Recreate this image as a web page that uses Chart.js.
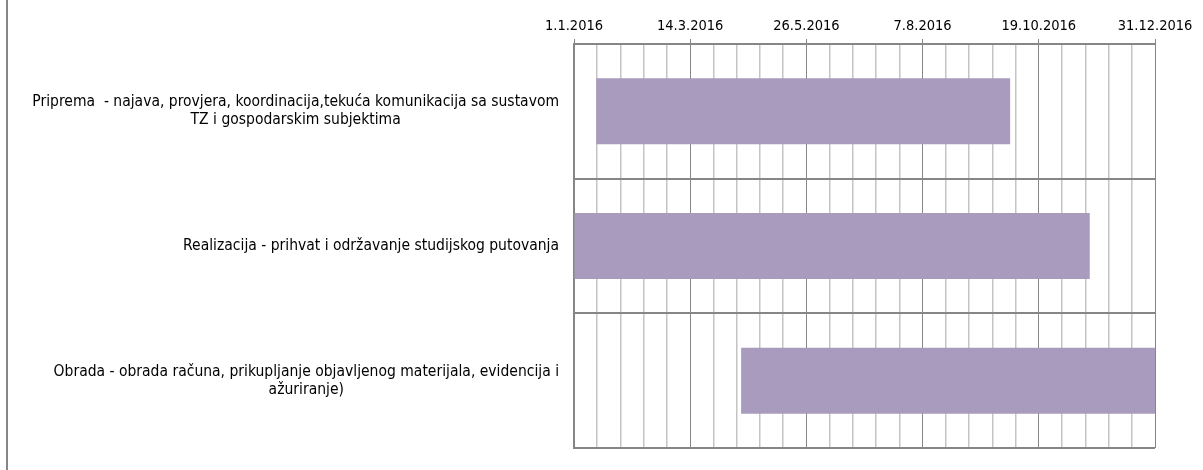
<!DOCTYPE html>
<html>
<head>
<meta charset="utf-8">
<script src="https://cdn.jsdelivr.net/npm/chart.js@4/dist/chart.umd.min.js"></script>
<style>
html,body{margin:0;padding:0;background:#fff;}
#wrap{position:relative;width:1203px;height:470px;}
</style>
</head>
<body>
<div id="wrap"><canvas id="c" width="1203" height="470"></canvas></div>
<script>
// ---- data ----
const categories = [
  ["Priprema  - najava, provjera, koordinacija,tekuća komunikacija sa sustavom", "TZ i gospodarskim subjektima"],
  ["Realizacija - prihvat i održavanje studijskog putovanja"],
  ["Obrada - obrada računa, prikupljanje objavljenog materijala, evidencija i", "ažuriranje)"]
];
const startDates = ["2016-01-15", "2016-01-01", "2016-04-15"];
const endDates   = ["2016-10-01", "2016-11-20", "2016-12-31"];
const tickLabels = ["1.1.2016", "14.3.2016", "26.5.2016", "7.8.2016", "19.10.2016", "31.12.2016"];
const axisStart = "2016-01-01";
const axisEnd = "2016-12-31";

// ---- helpers ----
function dayOf(s){
  const p = s.split("-").map(Number);
  const a = axisStart.split("-").map(Number);
  return (Date.UTC(p[0],p[1]-1,p[2]) - Date.UTC(a[0],a[1]-1,a[2])) / 86400000;
}
const spans = startDates.map((s,i)=>[dayOf(s), dayOf(endDates[i])]);
const axisMax = dayOf(axisEnd);
const majorStep = axisMax / (tickLabels.length - 1);
const minorStep = majorStep / 5;

const FONT = "'DejaVu Sans Condensed', 'DejaVu Sans', sans-serif";
const LABEL_SIZE = 15.5;
const TICK_SIZE = 14.5;

const frame = {
  id: 'frame',
  beforeDraw(chart){
    const ctx = chart.ctx;
    ctx.save();
    ctx.fillStyle = '#fff';
    ctx.fillRect(0,0,chart.width,chart.height);
    ctx.strokeStyle = '#868686';
    ctx.lineWidth = 2;
    ctx.beginPath();
    ctx.moveTo(7,0); ctx.lineTo(7,chart.height);
    ctx.stroke();
    ctx.restore();
  }
};

const catLabels = {
  id: 'catLabels',
  afterDraw(chart){
    const ys = chart.scales.y;
    const ctx = chart.ctx;
    ctx.save();
    ctx.font = LABEL_SIZE + "px " + FONT;
    ctx.fillStyle = '#000';
    ctx.textAlign = 'center';
    ctx.textBaseline = 'middle';
    const lh = 18;
    const rightEdge = chart.chartArea.left - 15;
    categories.forEach((lines,i)=>{
      const w = Math.max(...lines.map(l=>ctx.measureText(l).width));
      const cx = rightEdge - w/2;
      const cy = ys.getPixelForValue(i);
      const y0 = cy - (lines.length-1)*lh/2;
      lines.forEach((l,j)=>ctx.fillText(l, cx, y0 + j*lh));
    });
    ctx.restore();
  }
};

new Chart(document.getElementById('c'), {
  type: 'bar',
  data: {
    labels: categories.map(l=>l.join(' ')),
    datasets: [{
      data: spans,
      backgroundColor: '#a99bbe',
      borderWidth: 0,
      barPercentage: 0.98,
      categoryPercentage: 0.5
    }]
  },
  options: {
    indexAxis: 'y',
    responsive: false,
    animation: false,
    layout: { padding: { left: 0, right: 48, top: 0, bottom: 22 } },
    plugins: { legend: { display: false }, tooltip: { enabled: false } },
    scales: {
      x: {
        position: 'top',
        min: 0,
        max: axisMax,
        afterFit(s){ s.height = 44; },
        ticks: {
          stepSize: minorStep,
          autoSkip: false,
          maxRotation: 0,
          padding: 4,
          color: '#000',
          font: { family: FONT, size: TICK_SIZE },
          callback(v, i){ return i % 5 === 0 ? tickLabels[i/5] : ''; }
        },
        grid: {
          color(ctx){ return ctx.index % 5 === 0 ? '#868686' : '#c4c4c4'; },
          tickColor(ctx){ return ctx.index % 5 === 0 ? '#868686' : 'rgba(0,0,0,0)'; },
          lineWidth(ctx){ return ctx.index % 5 === 0 ? 1 : 1.5; },
          tickLength: 5
        },
        border: { color: '#868686', width: 2 }
      },
      y: {
        afterFit(s){ s.width = 574; },
        ticks: { display: false },
        grid: { offset: true, color: '#868686', lineWidth: 2, drawTicks: false },
        border: { color: '#868686', width: 2 }
      }
    }
  },
  plugins: [frame, catLabels]
});
</script>
</body>
</html>
